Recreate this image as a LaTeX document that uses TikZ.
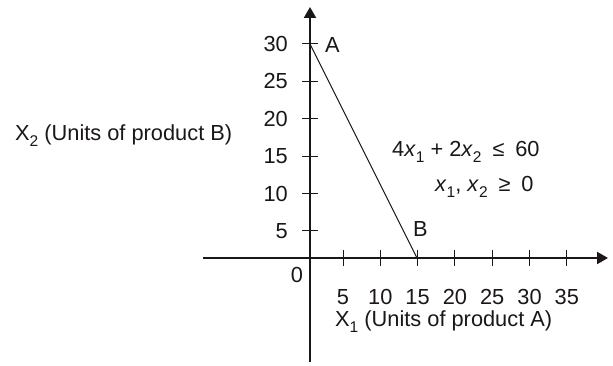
\documentclass[tikz,border=0pt]{standalone}
\usepackage{fontspec}
\setmainfont{Liberation Sans}
\usetikzlibrary{arrows.meta}
\definecolor{cink}{HTML}{1a1716}

\newcommand{\lowsub}[1]{\raisebox{-0.28em}{\fontsize{15.5}{16}\selectfont #1}}
\newcommand{\xv}[1]{\textit{x}\lowsub{#1}}
\newcommand{\relgap}{\hspace{0.5em}}

\begin{document}
\begin{tikzpicture}[x=1pt, y=1pt, every node/.style={font=\fontsize{21.8}{25}\selectfont, text=cink, inner sep=0pt}]
      \useasboundingbox (0,0) rectangle (613,366);
      % axes
      \coordinate (xl) at (203,108);
      \coordinate (xr) at (608,108);
      \coordinate (yb) at (310,4);
      \coordinate (yt) at (310,359);
      \draw[cink, line width=2pt, -{Triangle[length=11pt,width=12pt]}] (xl) -- (xr);
      \draw[cink, line width=2pt, -{Triangle[length=11pt,width=12pt]}] (yb) -- (yt);
      % ticks and their labels
      \foreach \v [count=\i from 0] in {5,10,...,30} {
        \draw[cink, line width=1pt] (302,135+\i*37.4) -- (318,135+\i*37.4);
        \node[anchor=east] (ly\v) at (288,135+\i*37.4) {\v};
      }
      \foreach \v [count=\i from 0] in {5,10,...,35} {
        \draw[cink, line width=1pt] (343+\i*37.3,100) -- (343+\i*37.3,116);
        \node (lx\v) at (343+\i*37.3,69) {\v};
      }
      \node (zero) at (297,91) {0};
      % constraint line
      \coordinate (ptA) at (310,322);
      \coordinate (ptB) at (417,108);
      \draw[cink, line width=1pt] (ptA) -- (ptB);
      \node[anchor=west] (labA) at (325,321) {A};
      \node[anchor=west] (labB) at (413,137) {B};
      \node[anchor=west] (cons) at (392,214) {4\xv{1} + 2\xv{2}\relgap≤\relgap60};
      \node[anchor=west] (nonneg) at (435,179) {\xv{1}, \xv{2}\relgap≥\relgap0};
      % axis titles
      \node[anchor=west] (ytitle) at (15,230) {X\lowsub{2} (Units of product B)};
      \node[anchor=west] (xtitle) at (335,44) {X\lowsub{1} (Units of product A)};
\end{tikzpicture}
\end{document}
